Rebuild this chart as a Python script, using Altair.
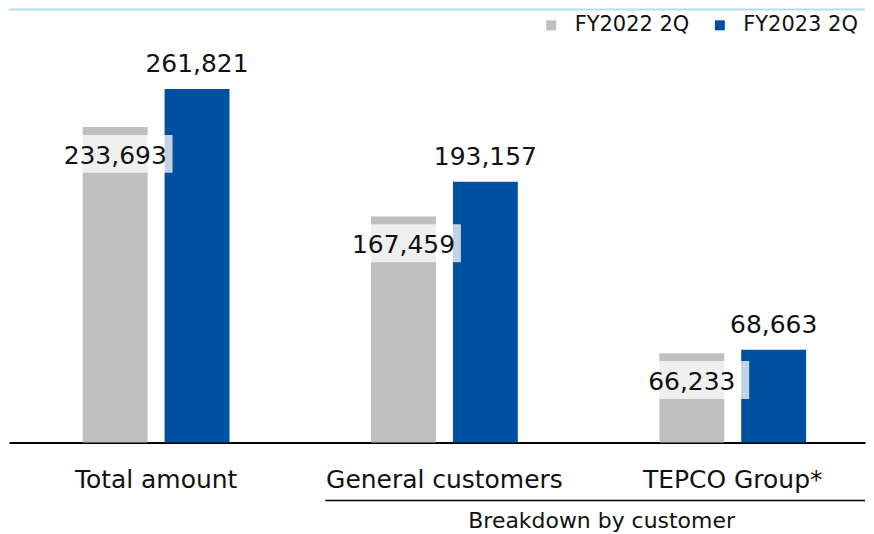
import altair as alt
import pandas as pd

categories = ["Total amount", "General customers", "TEPCO Group*"]
series_names = ["FY2022 2Q", "FY2023 2Q"]
fy2022_2q = [233693, 167459, 66233]
fy2023_2q = [261821, 193157, 68663]
group_caption = ["Breakdown by customer"]
colors = ["#bfbfbf", "#0050a2"]

rows = []
for c, a, b in zip(categories, fy2022_2q, fy2023_2q):
    rows.append({"category": c, "series": series_names[0], "value": a})
    rows.append({"category": c, "series": series_names[1], "value": b})
df = pd.DataFrame(rows)

FONT = "DejaVu Sans"
TXT = "#111111"
W, H = 858, 435

x_enc = alt.X(
    "category:N", sort=categories,
    scale=alt.Scale(paddingInner=0.491, paddingOuter=0.230, align=0.556),
    axis=alt.Axis(title=None, labelAngle=0, labelFontSize=25, labelFont=FONT,
                  labelColor=TXT, labelPadding=25, labelLimit=0, ticks=False,
                  domainColor="#000000", domainWidth=2),
)
xoff = alt.XOffset("series:N", sort=series_names,
                   scale=alt.Scale(paddingInner=0.207, paddingOuter=0))
y_enc = alt.Y("value:Q", scale=alt.Scale(domain=[0, 321270]), axis=None)

base = alt.Chart(df)

bars = base.mark_bar().encode(
    x=x_enc, xOffset=xoff, y=y_enc,
    color=alt.Color("series:N", sort=series_names,
                    scale=alt.Scale(domain=series_names, range=colors),
                    legend=alt.Legend(title=None, orient="none", legendX=533, legendY=6,
                                      direction="horizontal", symbolType="square",
                                      symbolSize=100, symbolStrokeWidth=0,
                                      labelFontSize=21, labelFont=FONT, labelColor=TXT,
                                      labelOffset=13, columnPadding=20, padding=0)),
)

gray_only = base.transform_filter(alt.datum.series == series_names[0])
blue_only = base.transform_filter(alt.datum.series == series_names[1])

box = gray_only.mark_rect(width=115, height=38, yOffset=27, color="white", opacity=0.75).encode(
    x=x_enc, xOffset=xoff, y=y_enc)

gray_text = gray_only.mark_text(baseline="alphabetic", dy=37, fontSize=25, font=FONT, color=TXT).encode(
    x=x_enc, xOffset=xoff, y=y_enc, text=alt.Text("value:Q", format=","))

blue_text = blue_only.mark_text(baseline="alphabetic", dy=-17, fontSize=25, font=FONT, color=TXT).encode(
    x=x_enc, xOffset=xoff, y=y_enc, text=alt.Text("value:Q", format=","))

sep_rule = alt.Chart(pd.DataFrame({"k": [1]})).mark_rule(color="#000000", strokeWidth=1.5).encode(
    x=alt.value(317), x2=alt.value(W), y=alt.value(493))

caption = alt.Chart(pd.DataFrame({"caption": group_caption})).mark_text(
    fontSize=22, font=FONT, color=TXT, baseline="middle", align="center").encode(
    x=alt.value(594), y=alt.value(514), text="caption:N")

top_line = alt.Chart(pd.DataFrame({"k": [1]})).mark_rule(color="#b3ddf7", strokeWidth=2).encode(
    x=alt.value(0), x2=alt.value(W), y=alt.value(1))

chart = alt.layer(bars, box, gray_text, blue_text, sep_rule, caption, top_line).properties(
    width=W, height=H, padding=0
).configure_view(stroke=None)

chart.save("out.html", embed_options={"renderer": "svg", "actions": False})
